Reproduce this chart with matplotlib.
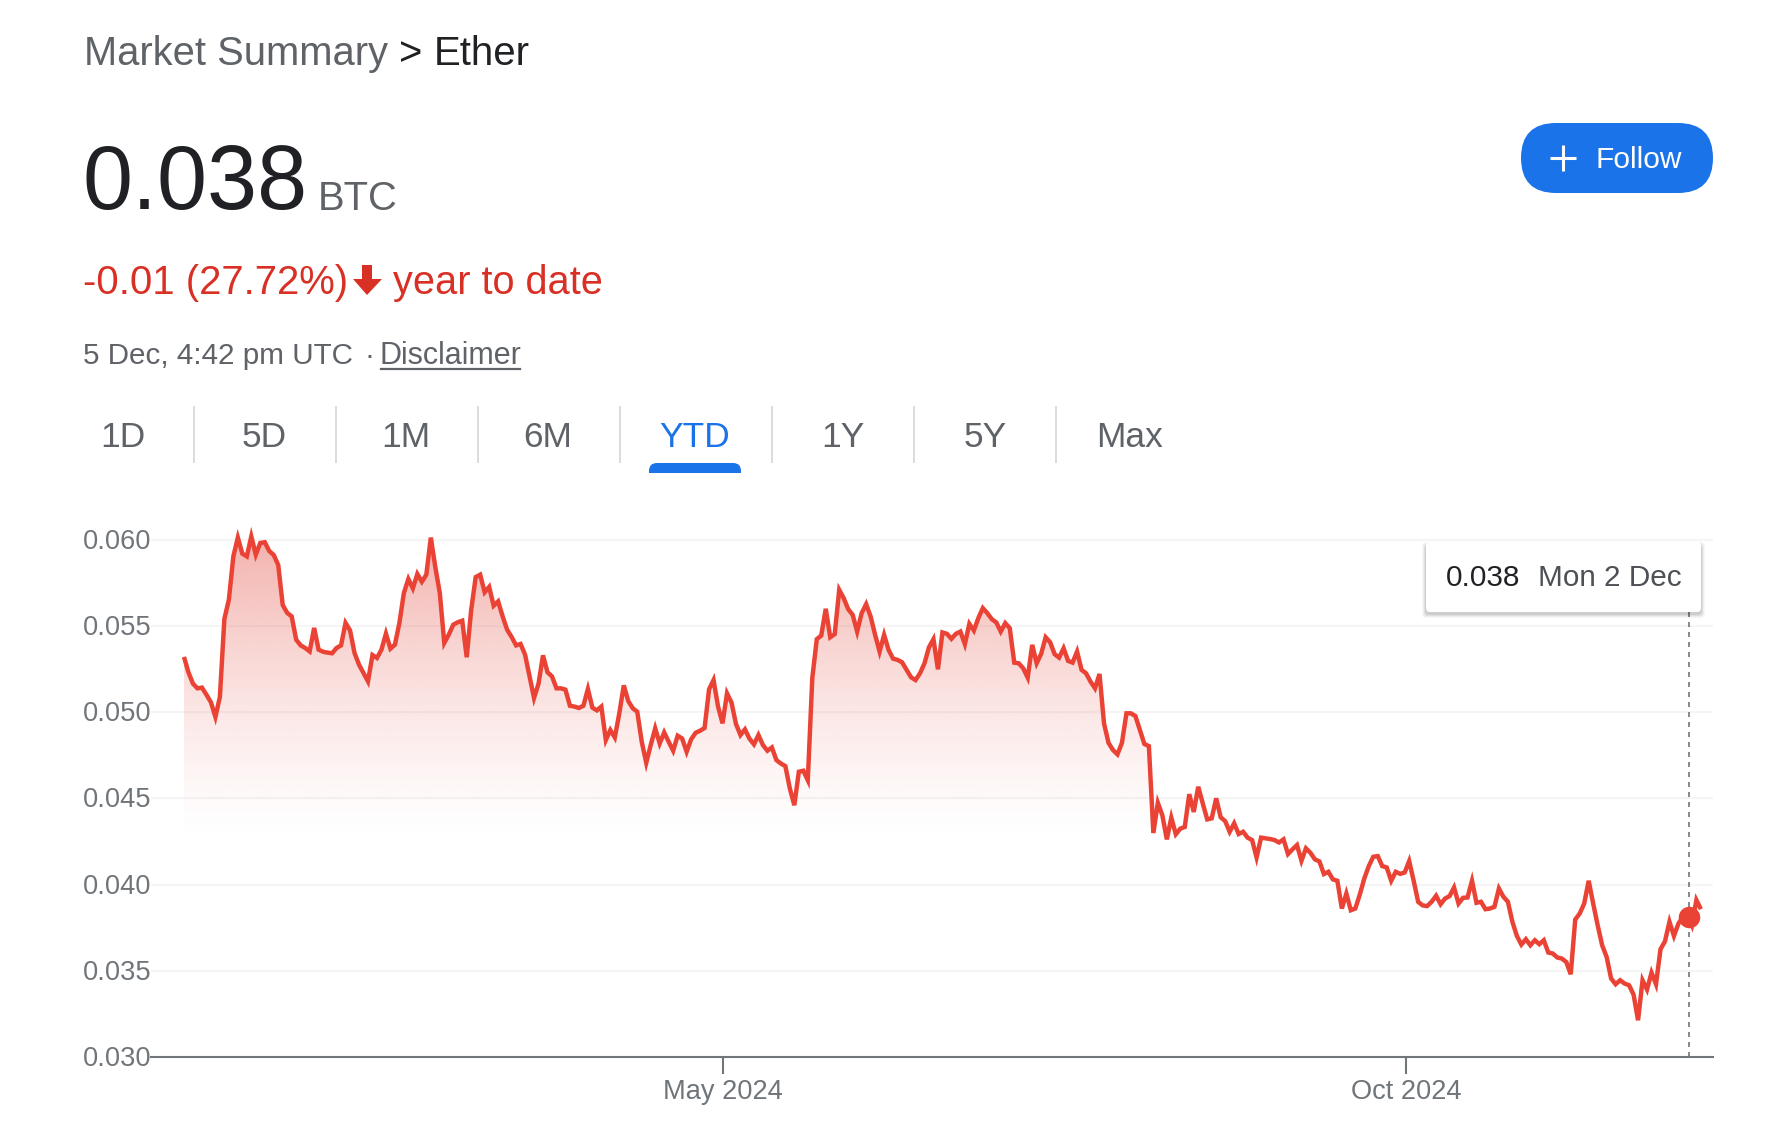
"""Ether / BTC year-to-date market summary card."""
import matplotlib
matplotlib.use("Agg")
import matplotlib.pyplot as plt
import numpy as np
from matplotlib.patches import FancyBboxPatch, Polygon, Rectangle
from matplotlib.transforms import ScaledTranslation

plt.rcParams["font.family"] = ["Liberation Sans", "DejaVu Sans"]

PRICE = [
    0.0532, 0.0523, 0.05165, 0.05138, 0.05142, 0.05101, 0.05057, 0.04972, 0.05088, 0.0554,
    0.05652, 0.05903, 0.06012, 0.05919, 0.05903, 0.06019, 0.05913, 0.05981, 0.05985, 0.05934,
    0.05911, 0.05853, 0.05621, 0.05575, 0.05555, 0.0542, 0.05387, 0.05372, 0.05352, 0.05488,
    0.05362, 0.0535, 0.05345, 0.05341, 0.05372, 0.05387, 0.05517, 0.05474, 0.05343, 0.05275,
    0.05227, 0.05178, 0.05331, 0.05314, 0.05362, 0.05455, 0.05368, 0.05391, 0.05517, 0.05691,
    0.05772, 0.05718, 0.05801, 0.05756, 0.05797, 0.06012, 0.05841, 0.05691, 0.05401, 0.05449,
    0.05507, 0.05521, 0.0553, 0.05318, 0.05594, 0.05783, 0.05797, 0.05695, 0.05726, 0.05617,
    0.05642, 0.05555, 0.05478, 0.05436, 0.05387, 0.05395, 0.05333, 0.05207, 0.05082, 0.05165,
    0.05329, 0.05231, 0.05207, 0.05138, 0.05138, 0.0513, 0.05037, 0.05032, 0.05024, 0.05037,
    0.05134, 0.05026, 0.0501,
    0.05032, 0.04838, 0.04896, 0.04853, 0.04993, 0.05155, 0.05064, 0.05022, 0.05002, 0.04828,
    0.04706, 0.04809, 0.04906, 0.04818, 0.04882, 0.04828, 0.04776, 0.04863, 0.04847, 0.0477,
    0.04842, 0.0488, 0.04892, 0.04908, 0.05132, 0.05186, 0.05032, 0.04935, 0.05109, 0.05055,
    0.04931, 0.04867, 0.049, 0.04846, 0.04813, 0.04867, 0.04809, 0.04776, 0.04795, 0.04722,
    0.04702, 0.04687, 0.04557, 0.0446, 0.04654, 0.0466, 0.04605, 0.05196, 0.05423, 0.05444,
    0.05599, 0.05434, 0.05452, 0.05709, 0.05661, 0.05597, 0.05564, 0.05467, 0.05574, 0.05626,
    0.05554, 0.05448, 0.05351, 0.05448, 0.05361, 0.0531, 0.05303, 0.05289, 0.05245, 0.05202,
    0.05186, 0.05225, 0.05283, 0.05376, 0.05423, 0.05248, 0.05462, 0.05454, 0.05425, 0.05454,
    0.05467, 0.05394, 0.05512, 0.05473, 0.05545, 0.05603, 0.05574, 0.05539, 0.0552, 0.05467,
    0.05516, 0.05487, 0.05287, 0.05283, 0.05254, 0.052, 0.0539, 0.05283, 0.05338, 0.05434,
    0.05405, 0.05336, 0.05316, 0.0537, 0.05297, 0.05287, 0.05351, 0.05245, 0.05225, 0.05177,
    0.05138, 0.05221, 0.04935, 0.04822, 0.0478, 0.04755, 0.04822, 0.04993, 0.04993, 0.04977,
    0.04896, 0.04815, 0.04803, 0.04299, 0.04474, 0.04402, 0.04262, 0.04388, 0.04292, 0.04324,
    0.04334, 0.04524, 0.04421, 0.04567,
    0.04471, 0.04378, 0.04384, 0.045, 0.0439, 0.04368, 0.04306, 0.04355, 0.04293, 0.04306,
    0.04272, 0.04258, 0.04157, 0.04272, 0.04268, 0.04264, 0.04258, 0.04244, 0.04262, 0.04177,
    0.04204, 0.04229, 0.04138, 0.0421, 0.04184, 0.04146, 0.04134, 0.04061, 0.04074, 0.0403,
    0.04022, 0.03861, 0.03948, 0.03851, 0.03861, 0.03942, 0.04035, 0.04107, 0.04161, 0.04165,
    0.04107, 0.04099, 0.04022, 0.04074, 0.04062, 0.0407, 0.04136, 0.04022, 0.039, 0.03879,
    0.03875, 0.039, 0.03935, 0.03886, 0.03919, 0.03933, 0.03983, 0.0389, 0.03923, 0.03925,
    0.04022, 0.03894, 0.039, 0.03857, 0.03861, 0.03871, 0.03977, 0.03929, 0.039, 0.03784,
    0.03702, 0.03652, 0.03683, 0.03648, 0.03677, 0.03654, 0.03677, 0.03606, 0.036, 0.03577,
    0.03571, 0.03551, 0.0348, 0.03797, 0.03832, 0.0389, 0.04022, 0.0389, 0.03764, 0.03648,
    0.0358, 0.03455, 0.03422, 0.03445, 0.03426, 0.03416, 0.03362, 0.03213, 0.03445, 0.03391,
    0.03489, 0.03422, 0.03625, 0.03671, 0.03784, 0.03702, 0.03774, 0.03813, 0.03822, 0.03764,
    0.0391, 0.03857,
]
Y_TICKS = [0.030, 0.035, 0.040, 0.045, 0.050, 0.055, 0.060]
X_TICKS = [120.1, 272.3]
X_TICK_LABELS = ["May 2024", "Oct 2024"]
HOVER_X = 335.3
HOVER_Y = 0.0381
TABS = ["1D", "5D", "1M", "6M", "YTD", "1Y", "5Y", "Max"]

GREY = "#5f6368"
DARK = "#202124"
RED = "#d93025"
BLUE = "#1a73e8"
LINE = "#ea4335"
AXIS = "#70757a"

W, H = 1775, 1125
fig = plt.figure(figsize=(W / 100, H / 100), dpi=100, facecolor="white")

# --- chart
ax = fig.add_axes([151 / W, (H - 1057) / H, (1713 - 151) / W, (1057 - 500) / H])
x = np.arange(len(PRICE))
for s in ("top", "left", "right"):
    ax.spines[s].set_visible(False)
ax.spines["bottom"].set_color(AXIS)
ax.spines["bottom"].set_linewidth(1.5)
ax.set_yticks(Y_TICKS, [f"{v:.3f}" for v in Y_TICKS])
ax.set_xticks(X_TICKS, X_TICK_LABELS)
ax.tick_params(axis="y", length=0, pad=0, labelsize=19.6, labelcolor=AXIS)
ax.tick_params(axis="x", length=12, width=1.5, color=AXIS, pad=4, labelsize=19.6, labelcolor=AXIS)
ax.grid(axis="y", color="#f5f5f5", lw=1.5)
ax.set_axisbelow(True)
for lbl in ax.get_yticklabels():
    lbl.set_transform(lbl.get_transform() + ScaledTranslation(0, 1 / 100, fig.dpi_scale_trans))

# red wash under the line, fading out near 0.0425
grad = np.zeros((256, 1, 4))
grad[..., :3] = matplotlib.colors.to_rgb("#e0392c")
grad[:, 0, 3] = 0.40 * np.linspace(1.0, 0.0, 256) ** 1.35
img = ax.imshow(grad, extent=[x[0], x[-1], 0.0425, 0.0605], aspect="auto", origin="upper",
                zorder=1.5, interpolation="bilinear")
clip = Polygon(np.column_stack([np.r_[x[0], x, x[-1]], np.r_[0.030, PRICE, 0.030]]),
               transform=ax.transData, fc="none", ec="none")
ax.add_patch(clip)
img.set_clip_path(clip)
ax.set_xlim(-7.35, 340.7)
ax.set_ylim(0.030, 0.0623)

ax.plot(x, PRICE, color=LINE, lw=3.2, solid_joinstyle="miter", solid_capstyle="butt", zorder=3)
ax.plot([HOVER_X, HOVER_X], [0.030, 0.056], color=AXIS, lw=1.2, ls=(0, (3, 3)), zorder=4)
ax.plot([HOVER_X], [HOVER_Y], "o", color=LINE, ms=15.5, mew=0, zorder=5)

# --- card furniture drawn in pixel coordinates
ui = fig.add_axes([0, 0, 1, 1], facecolor="none")
ui.set_xlim(0, W)
ui.set_ylim(H, 0)
ui.axis("off")

ui.text(84, 65, "Market Summary", fontsize=28.7, color=GREY, va="baseline")
ui.text(399, 65, ">", fontsize=28.7, color=DARK, va="baseline")
ui.text(434, 65, "Ether", fontsize=29, color=DARK, va="baseline")

ui.text(83, 209, "0.038", fontsize=64.7, color=DARK, va="baseline")
ui.text(318, 210, "BTC", fontsize=28.8, color=GREY, va="baseline")

ui.text(83, 294, "-0.01 (27.72%)", fontsize=28.9, color=RED, va="baseline")
ui.add_patch(Polygon([(362, 265), (372, 265), (372, 279), (382, 279), (367, 295), (353, 279), (362, 279)],
                     fc=RED, ec="none"))
ui.text(393, 294, "year to date", fontsize=28.6, color=RED, va="baseline")

ui.text(83, 364, "5 Dec, 4:42 pm UTC", fontsize=21.3, color=GREY, va="baseline")
ui.text(365, 364, "·", fontsize=21.3, color=GREY, va="baseline")
ui.text(380, 364, "Disclaimer", fontsize=22, color=GREY, va="baseline")
ui.plot([381, 520], [369, 369], color=GREY, lw=1.6)

tab_x = [123, 264, 406, 548, 695, 843, 985, 1130]
sep_x = [194, 336, 478, 620, 772, 914, 1056]
for label, tx in zip(TABS, tab_x):
    ui.text(tx, 447, label, fontsize=25.5, ha="center", va="baseline",
            color=BLUE if label == "YTD" else GREY)
for sx in sep_x:
    ui.plot([sx, sx], [407, 462], color="#dadce0", lw=1.4)
# active tab marker: rounded on top, flat at the bottom
ui.add_patch(FancyBboxPatch((649, 463), 92, 20, boxstyle="round,pad=0,rounding_size=8",
                            fc=BLUE, ec="none"))
ui.add_patch(Rectangle((645, 473), 100, 12, fc="white", ec="none"))

# follow button
ui.add_patch(FancyBboxPatch((1521, 123), 192, 70, boxstyle="round,pad=0,rounding_size=35",
                            fc=BLUE, ec="none"))
ui.plot([1550, 1576], [158, 158], color="white", lw=2.2, solid_capstyle="butt")
ui.plot([1563, 1563], [145, 171], color="white", lw=2.2, solid_capstyle="butt")
ui.text(1595, 168, "Follow", fontsize=21.5, color="white", va="baseline")

# tooltip with soft shadow, dropped below the card
for grow, alpha in zip((4, 3, 2, 1), (0.03, 0.04, 0.06, 0.08)):
    ui.add_patch(FancyBboxPatch((1426 - grow, 546 - grow), 275 + 2 * grow, 68 + 2 * grow,
                                boxstyle="round,pad=0,rounding_size=4", fc="black", ec="none", alpha=alpha))
ui.add_patch(FancyBboxPatch((1426, 542), 275, 70, boxstyle="round,pad=0,rounding_size=4",
                            fc="white", ec="none"))
ui.text(1446, 586, "0.038", fontsize=21.4, color=DARK, va="baseline")
ui.text(1538, 586, "Mon 2 Dec", fontsize=21.4, color="#4d5156", va="baseline")

fig.savefig("out.png", dpi=100)
plt.close(fig)
